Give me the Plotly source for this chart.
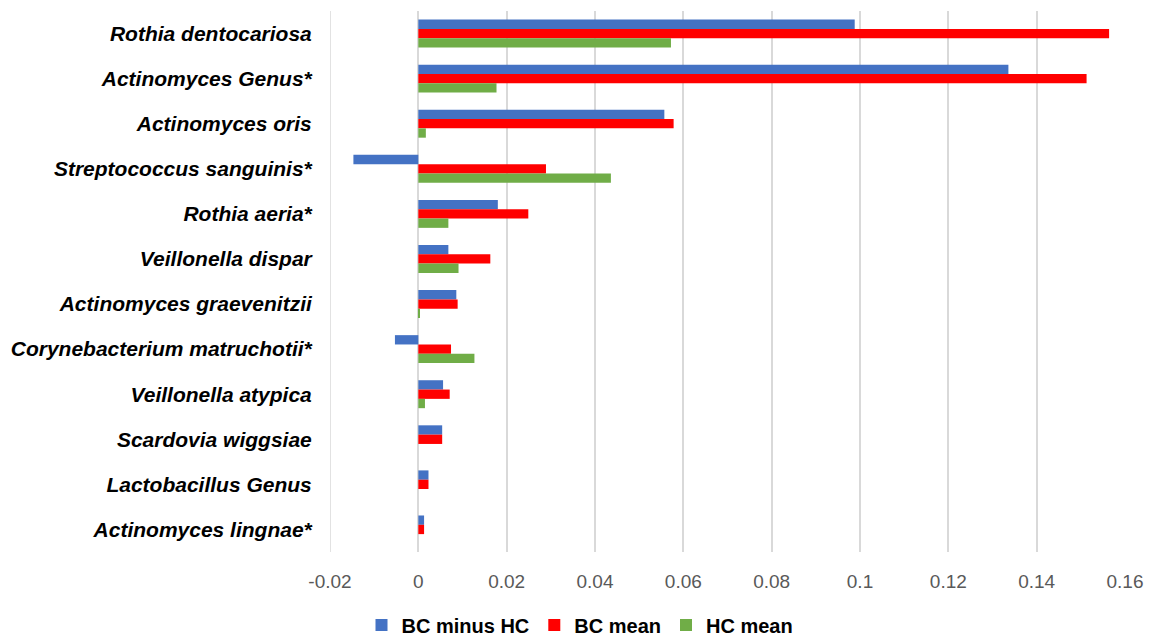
import plotly.graph_objects as go

categories = [
    "Rothia dentocariosa", "Actinomyces Genus*", "Actinomyces oris",
    "Streptococcus sanguinis*", "Rothia aeria*", "Veillonella dispar",
    "Actinomyces graevenitzii", "Corynebacterium matruchotii*",
    "Veillonella atypica", "Scardovia wiggsiae", "Lactobacillus Genus",
    "Actinomyces lingnae*",
]
bc_minus_hc = [0.0988, 0.1336, 0.0557, -0.0147, 0.0180, 0.0068, 0.0086, -0.0053, 0.0056, 0.0054, 0.0023, 0.0013]
bc_mean = [0.1564, 0.1513, 0.0578, 0.0289, 0.0249, 0.0163, 0.0089, 0.0074, 0.0071, 0.0054, 0.0023, 0.0013]
hc_mean = [0.0572, 0.0177, 0.0017, 0.0436, 0.0068, 0.0091, 0.0003, 0.0127, 0.0015, 0.0, 0.0, 0.0]

tick_vals = [-0.02, 0, 0.02, 0.04, 0.06, 0.08, 0.1, 0.12, 0.14, 0.16]
tick_labels = ["-0.02", "0", "0.02", "0.04", "0.06", "0.08", "0.1", "0.12", "0.14", "0.16"]

series = [
    ("BC minus HC", bc_minus_hc, "#4472C4"),
    ("BC mean", bc_mean, "#FF0000"),
    ("HC mean", hc_mean, "#70AD47"),
]

fig = go.Figure()
for name, vals, color in series:
    fig.add_trace(go.Bar(
        y=categories, x=vals, name=name, orientation="h",
        marker=dict(color=color, line=dict(width=0)),
    ))

# explicit grid line at the left range edge (-0.02), which plotly omits
fig.add_vline(x=tick_vals[0], line=dict(color="#D9D9D9", width=1.5), layer="below")

fig.update_layout(
    width=1154, height=639,
    barmode="group", bargap=0.38, bargroupgap=0,
    plot_bgcolor="white", paper_bgcolor="white",
    margin=dict(l=328, r=28, t=11, b=87),
    font=dict(family="Liberation Sans, Arial, sans-serif"),
    legend=dict(
        orientation="h", xref="container", yref="container",
        x=0.5026, y=0.022, xanchor="center", yanchor="middle",
        font=dict(size=20, color="#000000", weight="bold"),
        itemwidth=30, tracegroupgap=0,
    ),
    xaxis=dict(
        range=[-0.02, 0.16], tickvals=tick_vals, ticktext=tick_labels,
        showgrid=True, gridcolor="#D9D9D9", gridwidth=1.5,
        zeroline=True, zerolinecolor="#D9D9D9", zerolinewidth=1.5,
        showline=False,
        ticks="outside", ticklen=12, tickcolor="rgba(0,0,0,0)",
        tickfont=dict(size=19, color="#595959"),
    ),
    yaxis=dict(
        autorange="reversed", showgrid=False, zeroline=False, showline=False,
        ticks="outside", ticklen=13, tickcolor="rgba(0,0,0,0)",
        tickfont=dict(size=21, color="#000000", weight="bold", style="italic"),
    ),
    showlegend=True,
)

fig.write_html(
    "out.html",
    config={"displayModeBar": False},
    post_script="document.body.style.margin='0';document.body.style.overflow='hidden';",
)
